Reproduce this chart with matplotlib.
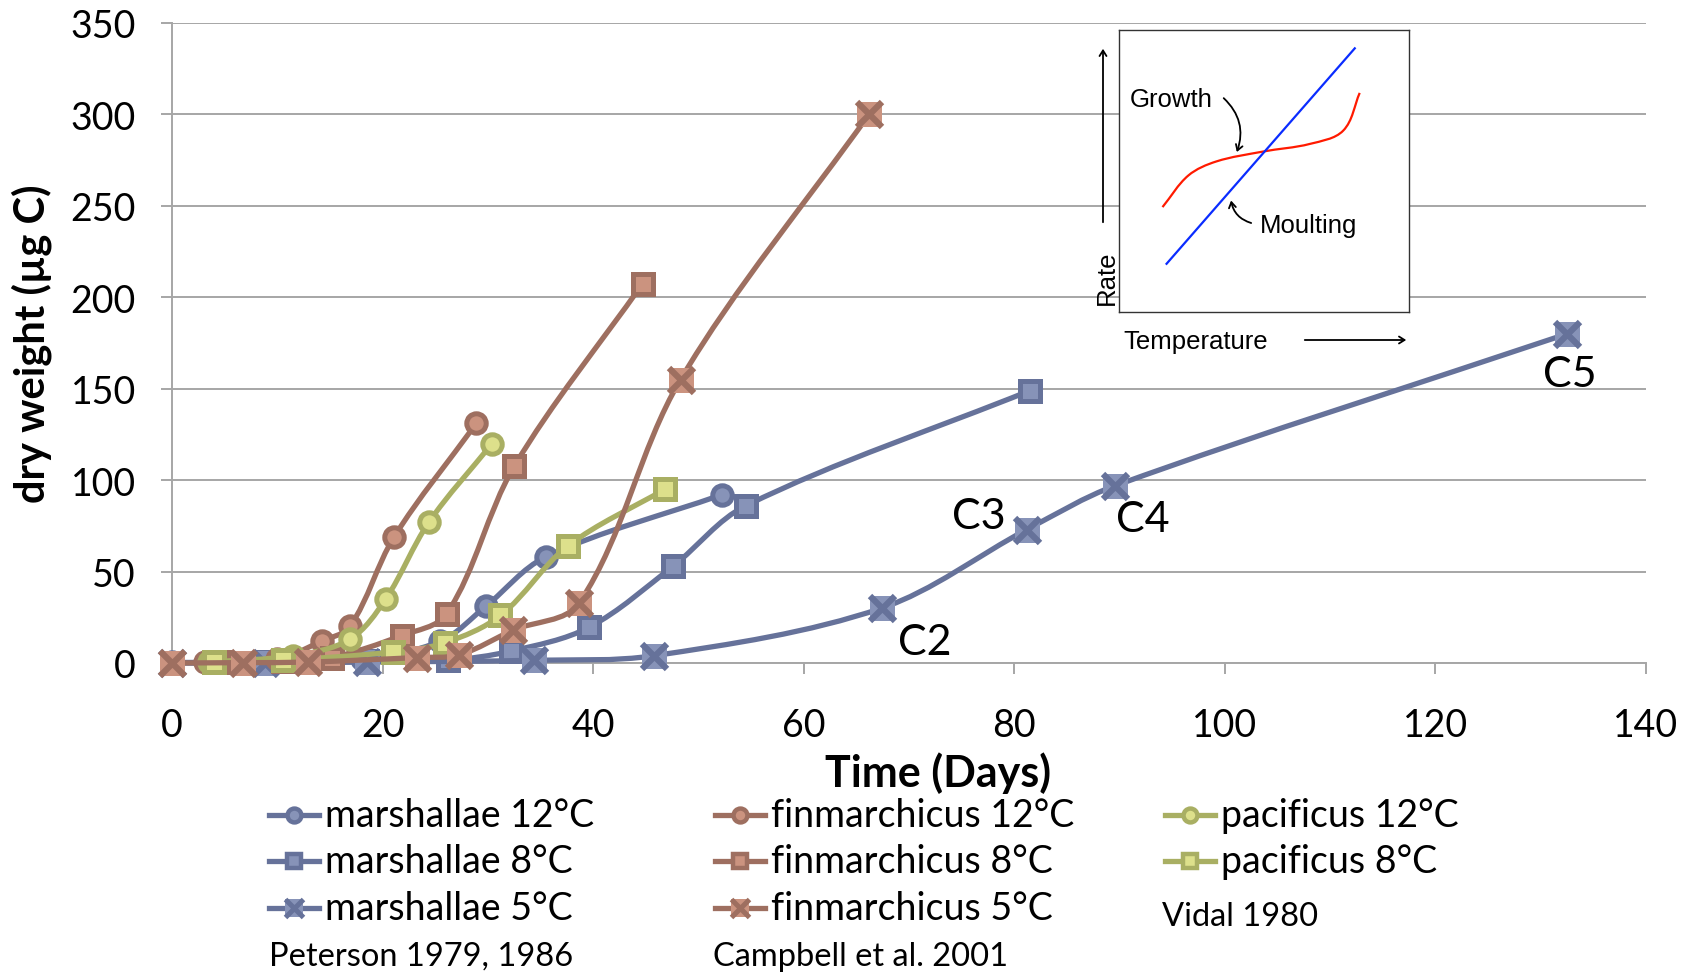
import numpy as np
import matplotlib
matplotlib.use("Agg")
import matplotlib.pyplot as plt
from matplotlib.path import Path
from matplotlib.patches import PathPatch, FancyArrowPatch
from matplotlib.lines import Line2D

# ---------------- data ----------------
mar12_x = [0, 8.8, 18.0, 25.5, 29.8, 35.5, 52.2]
mar12_y = [0.3, 0.5, 2.0, 12.0, 31.0, 58.0, 92.0]
mar8_x = [0, 8.8, 18.5, 26.2, 32.2, 39.6, 47.6, 54.5, 81.5]
mar8_y = [0.2, 0.3, 1.0, 1.5, 6.5, 19.5, 53.0, 86.0, 149.0]
mar5_x = [0, 8.8, 18.5, 34.4, 45.8, 67.4, 81.2, 89.6, 132.5]
mar5_y = [0.0, 0.0, 0.5, 1.5, 4.0, 30.0, 73.0, 97.0, 180.0]
fin12_x = [3.1, 10.0, 14.2, 16.9, 21.1, 28.9]
fin12_y = [0.5, 2.0, 12.0, 20.0, 69.0, 131.0]
fin8_x = [4.5, 10.5, 15.2, 21.8, 26.1, 32.5, 44.7]
fin8_y = [0.3, 1.0, 3.0, 15.0, 27.0, 107.5, 207.5]
fin5_x = [0, 6.7, 12.9, 23.3, 27.3, 32.4, 38.7, 48.3, 66.2]
fin5_y = [0.0, 0.2, 0.5, 3.0, 4.5, 18.0, 33.0, 155.0, 300.0]
pac12_x = [3.5, 11.5, 16.9, 20.3, 24.4, 30.4]
pac12_y = [0.5, 4.0, 13.0, 35.0, 77.0, 120.0]
pac8_x = [4.0, 10.5, 21.0, 25.9, 31.2, 37.6, 46.8]
pac8_y = [0.3, 1.5, 6.0, 11.0, 26.0, 64.0, 95.0]

stage_labels = ["C2", "C3", "C4", "C5"]
stage_x = [71.5, 76.6, 92.2, 132.8]
stage_y = [11.5, 80.5, 78.5, 158.0]

x_ticks = [0, 20, 40, 60, 80, 100, 120, 140]
y_ticks = [0, 50, 100, 150, 200, 250, 300, 350]

legend_labels = ["marshallae 12°C", "marshallae 8°C", "marshallae 5°C",
                 "finmarchicus 12°C", "finmarchicus 8°C", "finmarchicus 5°C",
                 "pacificus 12°C", "pacificus 8°C"]
source_labels = ["Peterson 1979, 1986", "Campbell et al. 2001", "Vidal 1980"]

# schematic inset curves (axes fraction)
growth_x = [0.150, 0.239, 0.336, 0.497, 0.658, 0.773, 0.830]
growth_y = [0.372, 0.484, 0.534, 0.569, 0.596, 0.643, 0.777]
moult_x = [0.164, 0.813]
moult_y = [0.171, 0.935]

# ---------------- style ----------------
BLUE_L, BLUE_F = "#66729a", "#8793b8"
BRN_L, BRN_F = "#9e6f60", "#cb937f"
GRN_L, GRN_F = "#a9af63", "#dde08b"
FONT = "Lato"

W, H = 1687, 979
fig = plt.figure(figsize=(W / 100, H / 100), dpi=100)
ax = fig.add_axes([172 / W, 1 - 664 / H, (1646 - 172) / W, (664 - 24) / H])
ax.set_xlim(0, 140)
ax.set_ylim(0, 350)


def smooth_path(x, y, sx=1.0, sy=1.0):
    """Bezier path through the points (chord-length scaled tangents)."""
    pts = np.column_stack([x, y]).astype(float)
    sc = np.array([sx, sy])
    n = len(pts)
    verts = [pts[0]]
    codes = [Path.MOVETO]

    def tangent(i):
        p0 = pts[i - 1] if i > 0 else pts[i]
        p2 = pts[i + 1] if i < n - 1 else pts[i]
        d = (p2 - p0) * sc
        nrm = np.hypot(*d)
        return d / nrm if nrm > 0 else d

    for i in range(n - 1):
        p1, p2 = pts[i], pts[i + 1]
        L = np.hypot(*((p2 - p1) * sc))
        c1 = p1 + tangent(i) * L / 3.0 / sc
        c2 = p2 - tangent(i + 1) * L / 3.0 / sc
        verts += [c1, c2, p2]
        codes += [Path.CURVE4] * 3
    return Path(verts, codes)


SX, SY = 10.53, 1.829   # px per data unit


def series(x, y, lc, fc, kind, z):
    patch = PathPatch(smooth_path(x, y, SX, SY), fill=False, edgecolor=lc, lw=3.8,
                      transform=ax.transData, clip_on=False, zorder=z,
                      capstyle="round", joinstyle="round")
    ax.add_patch(patch)
    if kind == "o":
        ax.plot(x, y, ls="none", marker="o", ms=14, mfc=fc, mec=lc, mew=3.6,
                clip_on=False, zorder=z + 0.5)
    elif kind == "s":
        ax.plot(x, y, ls="none", marker="s", ms=14, mfc=fc, mec=lc, mew=3.6,
                clip_on=False, zorder=z + 0.5)
    else:
        ax.plot(x, y, ls="none", marker="s", ms=18, mfc=fc, mec=fc, mew=0,
                clip_on=False, zorder=z + 0.5)
        ax.plot(x, y, ls="none", marker="x", ms=18, mec=lc, mew=4.5,
                clip_on=False, zorder=z + 0.6)


series(mar12_x, mar12_y, BLUE_L, BLUE_F, "o", 3)
series(mar8_x, mar8_y, BLUE_L, BLUE_F, "s", 4)
series(mar5_x, mar5_y, BLUE_L, BLUE_F, "x", 5)
series(fin12_x, fin12_y, BRN_L, BRN_F, "o", 6)
series(fin8_x, fin8_y, BRN_L, BRN_F, "s", 7)
series(pac12_x, pac12_y, GRN_L, GRN_F, "o", 8)
series(pac8_x, pac8_y, GRN_L, GRN_F, "s", 9)
series(fin5_x, fin5_y, BRN_L, BRN_F, "x", 10)

# axes styling
for s in ["top", "right"]:
    ax.spines[s].set_visible(False)
for s in ["left", "bottom"]:
    ax.spines[s].set_color("#a6a6a6")
    ax.spines[s].set_linewidth(1.4)
ax.set_xticks(x_ticks)
ax.set_yticks(y_ticks)
ax.yaxis.grid(True, color="#a6a6a6", lw=1.4)
ax.set_axisbelow(True)
ax.tick_params(axis="both", direction="out", length=8, width=1.4, color="#a6a6a6",
               labelsize=27, labelcolor="black")
ax.tick_params(axis="x", pad=24)
ax.tick_params(axis="y", pad=18)
for lab in ax.get_xticklabels() + ax.get_yticklabels():
    lab.set_family(FONT)

for lab, sx, sy in zip(stage_labels, stage_x, stage_y):
    ax.text(sx, sy, lab, fontsize=31, family=FONT, ha="center", va="center", zorder=20)

fig.text(32 / W, 1 - 344 / H, "dry weight (µg C)", rotation=90, fontsize=30,
         fontweight="bold", family=FONT, ha="center", va="center")
fig.text(938 / W, 1 - 773 / H, "Time (Days)", fontsize=31, fontweight="bold",
         family=FONT, ha="center", va="center")

# ---------------- legend ----------------
col_x = [269, 715, 1165]
row_y = [816, 862, 909]
styles = [(BLUE_L, BLUE_F, "o"), (BLUE_L, BLUE_F, "s"), (BLUE_L, BLUE_F, "x"),
          (BRN_L, BRN_F, "o"), (BRN_L, BRN_F, "s"), (BRN_L, BRN_F, "x"),
          (GRN_L, GRN_F, "o"), (GRN_L, GRN_F, "s")]
for i, (lab, (lc, fc, kind)) in enumerate(zip(legend_labels, styles)):
    c, r = i // 3, i % 3
    x0 = col_x[c]
    y0 = 1 - row_y[r] / H
    xs = [x0 / W, (x0 + 50) / W]
    fig.add_artist(Line2D(xs, [y0, y0], color=lc, lw=3.8, transform=fig.transFigure))
    xm = (x0 + 25) / W
    if kind in ("o", "s"):
        fig.add_artist(Line2D([xm], [y0], marker=kind, ms=10, mfc=fc, mec=lc, mew=3.2,
                              ls="none", transform=fig.transFigure))
    else:
        fig.add_artist(Line2D([xm], [y0], marker="s", ms=13, mfc=fc, mec=fc, mew=0,
                              ls="none", transform=fig.transFigure))
        fig.add_artist(Line2D([xm], [y0], marker="x", ms=13, mec=lc, mew=3.6,
                              ls="none", transform=fig.transFigure))
    fig.text((x0 + 56) / W, y0, lab, fontsize=27, family=FONT, ha="left", va="center")

fig.text(269 / W, 1 - 957 / H, source_labels[0], fontsize=23.5, family=FONT, ha="left", va="center")
fig.text(713 / W, 1 - 957 / H, source_labels[1], fontsize=23.5, family=FONT, ha="left", va="center")
fig.text(1162 / W, 1 - 917 / H, source_labels[2], fontsize=23.5, family=FONT, ha="left", va="center")

# ---------------- inset ----------------
iax = fig.add_axes([1119 / W, 1 - 313 / H, 290 / W, 282 / H], zorder=30)
iax.set_xlim(0, 1)
iax.set_ylim(0, 1)
iax.set_xticks([])
iax.set_yticks([])
for s in iax.spines.values():
    s.set_color("#333333")
    s.set_linewidth(1.0)
iax.plot(moult_x, moult_y, color="#0a2cff", lw=1.6)
iax.add_patch(PathPatch(smooth_path(growth_x, growth_y), fill=False, edgecolor="#ff1a00",
                        lw=1.6, transform=iax.transData))
IF = "Liberation Sans"
IFS = 18.5
iax.text(0.038, 0.756, "Growth", fontsize=IFS, family=IF, ha="left", va="center")
iax.text(0.486, 0.307, "Moulting", fontsize=IFS, family=IF, ha="left", va="center")
iax.add_patch(FancyArrowPatch((0.354, 0.765), (0.403, 0.558), transform=iax.transAxes,
                              connectionstyle="arc3,rad=-0.35", arrowstyle="->,head_length=4,head_width=2.5",
                              color="black", lw=1.3))
iax.add_patch(FancyArrowPatch((0.465, 0.313), (0.385, 0.405), transform=iax.transAxes,
                              connectionstyle="arc3,rad=-0.35", arrowstyle="->,head_length=4,head_width=2.5",
                              color="black", lw=1.3))

fig.text(1107 / W, 1 - 278 / H, "Rate", rotation=90, fontsize=IFS, family=IF,
         ha="center", va="center")
fig.add_artist(FancyArrowPatch((1103 / W, 1 - 226 / H), (1103 / W, 1 - 47 / H),
                               transform=fig.transFigure, arrowstyle="->,head_length=4,head_width=2.5",
                               color="black", lw=1.3))
fig.text(1123 / W, 1 - 342 / H, "Temperature", fontsize=IFS, family=IF, ha="left", va="center")
fig.add_artist(FancyArrowPatch((1302 / W, 1 - 341 / H), (1409 / W, 1 - 341 / H),
                               transform=fig.transFigure, arrowstyle="->,head_length=4,head_width=2.5",
                               color="black", lw=1.3))

fig.savefig("out.png", dpi=100)
